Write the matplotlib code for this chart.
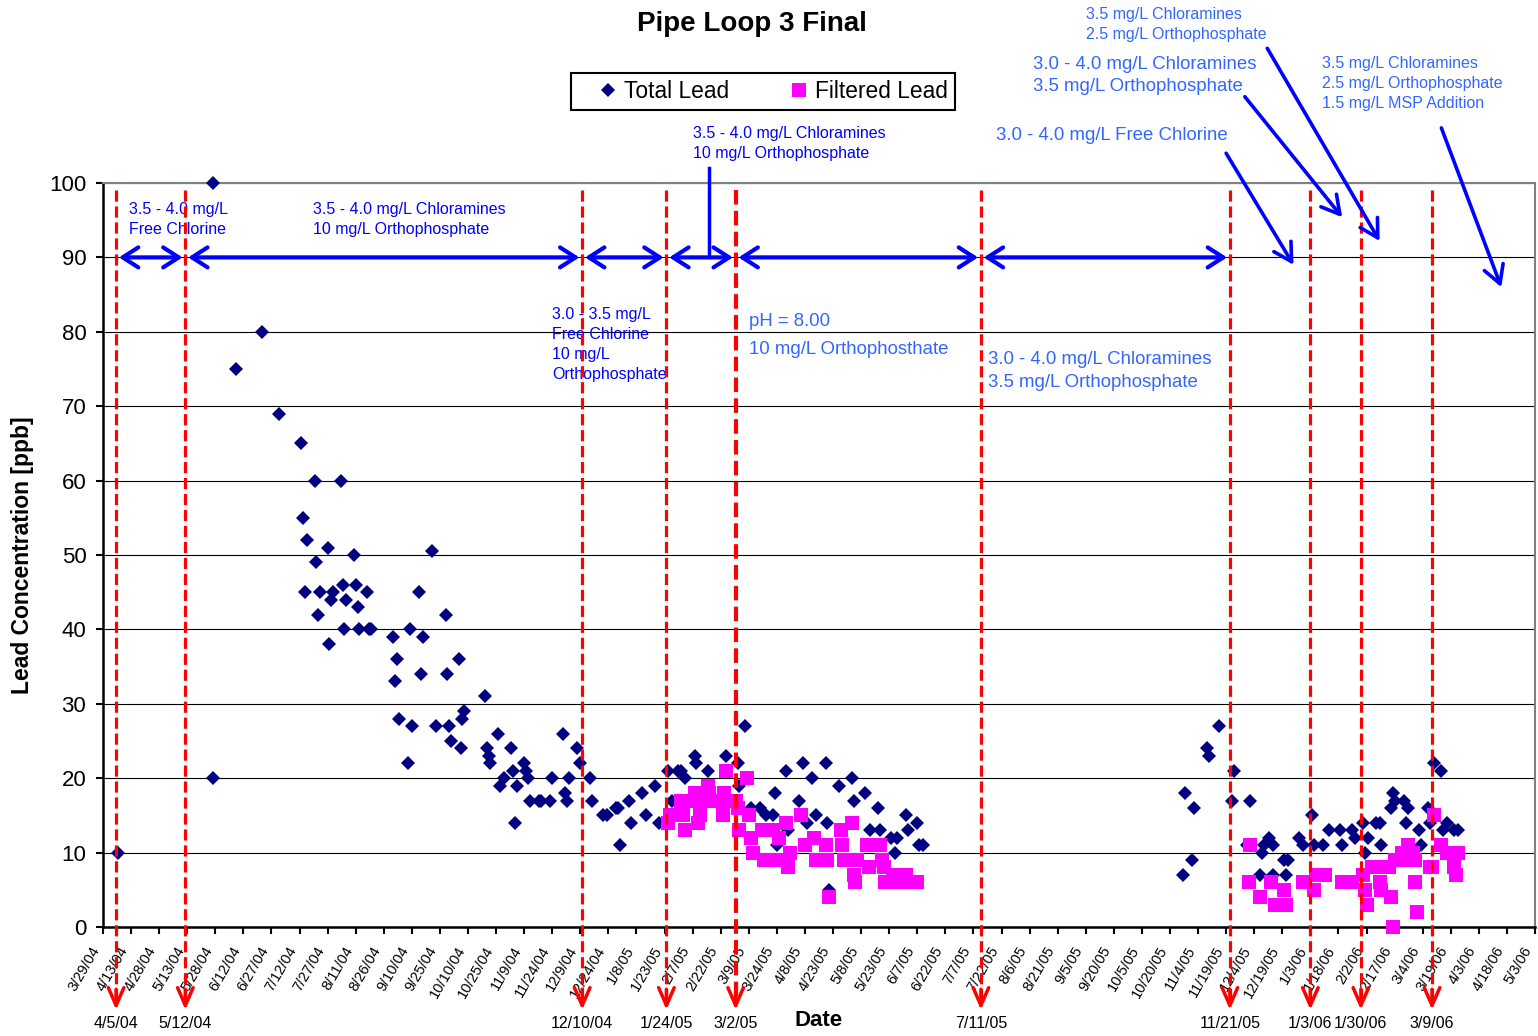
import numpy as np
import pandas as pd
import matplotlib
matplotlib.use('Agg')
from matplotlib import pyplot as plt
import matplotlib.dates as mdates

plt.rcParams['font.family'] = ['Liberation Sans', 'DejaVu Sans']

# total lead samples
total_dates = [
    '2004-04-06', '2004-05-27', '2004-05-27', '2004-06-08', '2004-06-22', '2004-07-01',
    '2004-07-13', '2004-07-14', '2004-07-15', '2004-07-16', '2004-07-20', '2004-07-21',
    '2004-07-22', '2004-07-23', '2004-07-27', '2004-07-28', '2004-07-29', '2004-07-30',
    '2004-08-03', '2004-08-04', '2004-08-05', '2004-08-06', '2004-08-10', '2004-08-11',
    '2004-08-12', '2004-08-13', '2004-08-17', '2004-08-18', '2004-08-19', '2004-08-31',
    '2004-09-01', '2004-09-02', '2004-09-03', '2004-09-08', '2004-09-09', '2004-09-10',
    '2004-09-14', '2004-09-15', '2004-09-16', '2004-09-21', '2004-09-23', '2004-09-28',
    '2004-09-29', '2004-09-30', '2004-10-01', '2004-10-05', '2004-10-06', '2004-10-07',
    '2004-10-08', '2004-10-19', '2004-10-20', '2004-10-21', '2004-10-22', '2004-10-26',
    '2004-10-27', '2004-10-29', '2004-11-02', '2004-11-03', '2004-11-04', '2004-11-05',
    '2004-11-09', '2004-11-10', '2004-11-11', '2004-11-12', '2004-11-17', '2004-11-18',
    '2004-11-23', '2004-11-24', '2004-11-30', '2004-12-01', '2004-12-02', '2004-12-03',
    '2004-12-07', '2004-12-09', '2004-12-14', '2004-12-15', '2004-12-21', '2004-12-23',
    '2004-12-28', '2004-12-29', '2004-12-30', '2005-01-04', '2005-01-05', '2005-01-11',
    '2005-01-13', '2005-01-18', '2005-01-20', '2005-01-25', '2005-01-27', '2005-01-30',
    '2005-02-01', '2005-02-03', '2005-02-08', '2005-02-09', '2005-02-15', '2005-02-25',
    '2005-03-03', '2005-03-04', '2005-03-07', '2005-03-10', '2005-03-15', '2005-03-18',
    '2005-03-22', '2005-03-23', '2005-03-24', '2005-03-29', '2005-03-30', '2005-04-05',
    '2005-04-07', '2005-04-09', '2005-04-12', '2005-04-14', '2005-04-19', '2005-04-20',
    '2005-04-21', '2005-04-26', '2005-05-03', '2005-05-04', '2005-05-10', '2005-05-13',
    '2005-05-17', '2005-05-18', '2005-05-24', '2005-05-26', '2005-05-27', '2005-06-01',
    '2005-06-02', '2005-06-07', '2005-06-08', '2005-06-10',
    '2005-10-27', '2005-10-28', '2005-11-01', '2005-11-02', '2005-11-09', '2005-11-10',
    '2005-11-15', '2005-11-22', '2005-11-23', '2005-11-30', '2005-12-02', '2005-12-07',
    '2005-12-08', '2005-12-09', '2005-12-12', '2005-12-14', '2005-12-14', '2005-12-20',
    '2005-12-21', '2005-12-22', '2005-12-28', '2005-12-30', '2006-01-04', '2006-01-05',
    '2006-01-10', '2006-01-13', '2006-01-19', '2006-01-20', '2006-01-25', '2006-01-27',
    '2006-01-31', '2006-02-01', '2006-02-03', '2006-02-07', '2006-02-09', '2006-02-10',
    '2006-02-15', '2006-02-16', '2006-02-17', '2006-02-22', '2006-02-23', '2006-02-24',
    '2006-03-02', '2006-03-03', '2006-03-07', '2006-03-08', '2006-03-10', '2006-03-14',
    '2006-03-15', '2006-03-17', '2006-03-21', '2006-03-23',
]
total_lead = [
    10, 100, 20, 75, 80, 69,
    65, 55, 45, 52, 60, 49,
    42, 45, 51, 38, 44, 45,
    60, 46, 40, 44, 50, 46,
    43, 40, 45, 40, 40, 39,
    33, 36, 28, 22, 40, 27,
    45, 34, 39, 50.5, 27, 42,
    34, 27, 25, 36, 24, 28,
    29, 31, 24, 23, 22, 26,
    19, 20, 24, 21, 14, 19,
    22, 21, 20, 17, 17, 17,
    17, 20, 26, 18, 17, 20,
    24, 22, 20, 17, 15, 15,
    16, 16, 11, 17, 14, 18,
    15, 19, 14, 21, 17, 21,
    21, 20, 23, 22, 21, 23,
    22, 19, 27, 16, 16, 15,
    15, 18, 11, 21, 13, 17,
    22, 14, 20, 15, 22, 14,
    5, 19, 20, 17, 18, 13,
    16, 13, 12, 10, 12, 15,
    13, 14, 11, 11,
    7, 18, 9, 16, 24, 23,
    27, 17, 21, 11, 17, 7,
    10, 11, 12, 11, 7, 9,
    7, 9, 12, 11, 15, 11,
    11, 13, 13, 11, 13, 12,
    14, 10, 12, 14, 14, 11,
    16, 18, 17, 17, 14, 16,
    13, 11, 16, 14, 22, 21,
    13, 14, 13, 13,
]

# filtered lead samples
filtered_dates = [
    '2005-01-25', '2005-01-26', '2005-02-01', '2005-02-02', '2005-02-03', '2005-02-04',
    '2005-02-08', '2005-02-10', '2005-02-11', '2005-02-11', '2005-02-15', '2005-02-16',
    '2005-02-17', '2005-02-23', '2005-02-24', '2005-02-24', '2005-02-25', '2005-03-02',
    '2005-03-03', '2005-03-04', '2005-03-08', '2005-03-09', '2005-03-10', '2005-03-11',
    '2005-03-16', '2005-03-17', '2005-03-22', '2005-03-24', '2005-03-25', '2005-03-29',
    '2005-03-30', '2005-03-31', '2005-04-06', '2005-04-08', '2005-04-13', '2005-04-14',
    '2005-04-19', '2005-04-20', '2005-04-21', '2005-04-27', '2005-04-28', '2005-04-29',
    '2005-05-03', '2005-05-04', '2005-05-05', '2005-05-06', '2005-05-11', '2005-05-12',
    '2005-05-18', '2005-05-19', '2005-05-20', '2005-05-21', '2005-05-25', '2005-05-27',
    '2005-06-01', '2005-06-02', '2005-06-07',
    '2005-12-01', '2005-12-02', '2005-12-07', '2005-12-13', '2005-12-15', '2005-12-20',
    '2005-12-21', '2005-12-30', '2006-01-05', '2006-01-06', '2006-01-11', '2006-01-20',
    '2006-01-25', '2006-01-31', '2006-02-01', '2006-02-02', '2006-02-05', '2006-02-09',
    '2006-02-10', '2006-02-10', '2006-02-14', '2006-02-15', '2006-02-16', '2006-02-17',
    '2006-02-21', '2006-02-23', '2006-02-24', '2006-02-27', '2006-02-28', '2006-02-28',
    '2006-03-01', '2006-03-08', '2006-03-09', '2006-03-10', '2006-03-14', '2006-03-17',
    '2006-03-21', '2006-03-22', '2006-03-23',
]
filtered_lead = [
    14, 15, 17, 15, 13, 17,
    18, 14, 15, 17, 19, 18,
    17, 15, 18, 17, 21, 17,
    16, 13, 20, 15, 12, 10,
    13, 9, 13, 9, 12, 14,
    8, 10, 15, 11, 12, 9,
    11, 9, 4, 13, 11, 9,
    14, 7, 6, 9, 11, 8,
    11, 9, 8, 6, 7, 6,
    7, 6, 6,
    6, 11, 4, 6, 3, 5,
    3, 6, 5, 7, 7, 6,
    6, 7, 5, 3, 8, 6,
    8, 5, 8, 4, 0, 9,
    10, 9, 11, 10, 9, 6,
    2, 8, 8, 15, 11, 10,
    8, 7, 10,
]

# treatment changes (red dashed markers)
change_dates = ['2004-04-05', '2004-05-12', '2004-12-10', '2005-01-24', '2005-03-02',
                '2005-07-11', '2005-11-21', '2006-01-03', '2006-01-30', '2006-03-09']

x_start, x_end = '2004-03-29', '2006-05-03'


def dn(s):
    return mdates.date2num(pd.Timestamp(s))


def mdy(d):
    return f"{d.month}/{d.day}/{d:%y}"


fig = plt.figure(figsize=(15.38, 10.36), dpi=100)
ax = fig.add_axes([0.06697, 0.10521, 0.93107, 0.71815])

td = mdates.date2num(pd.to_datetime(total_dates).to_pydatetime())
fd = mdates.date2num(pd.to_datetime(filtered_dates).to_pydatetime())

ax.plot(td, total_lead, 'D', color='#000080', ms=7, mew=0, label='Total Lead',
        zorder=3, clip_on=False)
ax.plot(fd, filtered_lead, 's', color='#FF00FF', ms=9.5, mew=0, label='Filtered Lead',
        zorder=4, clip_on=False)

# axes and grid
ax.set_xlim(dn(x_start), dn(x_end))
ax.set_ylim(0, 100)
ax.set_yticks(np.arange(0, 101, 10))
ticks = pd.date_range(x_start, x_end, freq='15D')
ax.set_xticks(mdates.date2num(ticks.to_pydatetime()))
ax.set_xticklabels([mdy(t) for t in ticks], rotation=60, ha='right', fontsize=10.5)
ax.tick_params(axis='x', direction='out', length=5, width=1.5, pad=7)
ax.tick_params(axis='y', direction='out', length=5, width=1.5, pad=7, labelsize=16)
ax.set_axisbelow(True)
ax.yaxis.grid(True, color='black', lw=0.8)
for side in ['left', 'bottom']:
    ax.spines[side].set_color('black')
    ax.spines[side].set_linewidth(1.8)
for side in ['top', 'right']:
    ax.spines[side].set_color('#808080')
    ax.spines[side].set_linewidth(1.5)

ax.set_ylabel('Lead Concentration [ppb]', fontsize=16.5, fontweight='bold')
ax.yaxis.set_label_coords(-0.048, 0.5)
ax.set_xlabel('Date', fontsize=16, fontweight='bold')
ax.xaxis.set_label_coords(0.5, -0.112)

fig.text(752 / 1538, 1 - 24 / 1036, 'Pipe Loop 3 Final', ha='center', va='center',
         fontsize=20, fontweight='bold')

leg = ax.legend(ncol=2, loc='center', bbox_to_anchor=(763 / 1538, 1 - 91.5 / 1036),
                bbox_transform=fig.transFigure, fontsize=16.4, fancybox=False,
                edgecolor='black', framealpha=1, borderpad=0.3, handlelength=2.6,
                handletextpad=-0.6, columnspacing=1.8)
leg.get_frame().set_linewidth(1.5)

# red dashed change lines with arrow heads below the axis
for s in change_dates:
    x = dn(s)
    lw = 3.0 if s == '2005-03-02' else 2.3
    ax.plot([x, x], [99, -9.5], color='red', lw=lw, ls=(0, (3.5, 1.5)),
            clip_on=False, zorder=5)
    ax.annotate('', xy=(x, -11.5), xytext=(x, -8.0), annotation_clip=False,
                arrowprops=dict(arrowstyle='->,head_length=0.8,head_width=0.35',
                                color='red', lw=2.5, mutation_scale=16), zorder=5)
    ax.text(x, -13.0, mdy(pd.Timestamp(s)), ha='center', va='center',
            fontsize=11.5, clip_on=False)

# blue double arrows spanning each treatment period
for a, b in zip(change_dates[:6], change_dates[1:7]):
    ax.annotate('', xy=(dn(b), 90), xytext=(dn(a), 90), annotation_clip=False,
                arrowprops=dict(arrowstyle='<->,head_length=0.7,head_width=0.45',
                                color='blue', lw=3, mutation_scale=16,
                                shrinkA=2, shrinkB=2), zorder=6)
ax.plot([dn('2005-02-16')] * 2, [90, 102], color='blue', lw=2.5, clip_on=False, zorder=6)

# notes: y is the baseline of the last line
blue = '#0000FF'
light = '#3366FF'
small = dict(fontsize=11.5, va='baseline', linespacing=1.42)
large = dict(fontsize=13.4, va='baseline', linespacing=1.45)
ax.text(dn('2004-04-12'), 93.2, '3.5 - 4.0 mg/L\nFree Chlorine', color=blue, **small)
ax.text(dn('2004-07-19'), 93.2, '3.5 - 4.0 mg/L Chloramines\n10 mg/L Orthophosphate',
        color=blue, **small)
ax.text(dn('2004-11-24'), 73.7, '3.0 - 3.5 mg/L\nFree Chlorine\n10 mg/L\nOrthophosphate',
        color=blue, **small)
ax.text(dn('2005-02-07'), 103.3, '3.5 - 4.0 mg/L Chloramines\n10 mg/L Orthophosphate',
        color=blue, **small)
ax.text(dn('2005-03-09'), 80.8, 'pH = 8.00', color=light, **large)
ax.text(dn('2005-03-09'), 77.0, '10 mg/L Orthophosthate', color=light, **large)
ax.text(dn('2005-07-15'), 72.6, '3.0 - 4.0 mg/L Chloramines\n3.5 mg/L Orthophosphate',
        color=light, **large)
ax.text(dn('2005-07-19'), 105.8, '3.0 - 4.0 mg/L Free Chlorine', color=light, **large)
ax.text(dn('2005-08-08'), 112.3, '3.0 - 4.0 mg/L Chloramines\n3.5 mg/L Orthophosphate',
        color=light, **large)
ax.text(dn('2005-09-05'), 119.3, '3.5 mg/L Chloramines\n2.5 mg/L Orthophosphate',
        color=light, **small)
ax.text(dn('2006-01-09'), 110.1,
        '3.5 mg/L Chloramines\n2.5 mg/L Orthophosphate\n1.5 mg/L MSP Addition',
        color=light, **small)

# pointer arrows from the late-period notes
pointers = [
    (('2005-11-19', 104.0), ('2005-12-25', 89.0)),
    (('2005-11-29', 111.6), ('2006-01-20', 95.4)),
    (('2005-12-11', 118.1), ('2006-02-09', 92.2)),
    (('2006-03-14', 107.4), ('2006-04-15', 86.0)),
]
for (d0, y0), (d1, y1) in pointers:
    ax.annotate('', xy=(dn(d1), y1), xytext=(dn(d0), y0), annotation_clip=False,
                arrowprops=dict(arrowstyle='->,head_length=0.8,head_width=0.45',
                                color='blue', lw=2.6, mutation_scale=16,
                                shrinkA=0, shrinkB=0), zorder=6)

fig.savefig('out.png', dpi=100)
